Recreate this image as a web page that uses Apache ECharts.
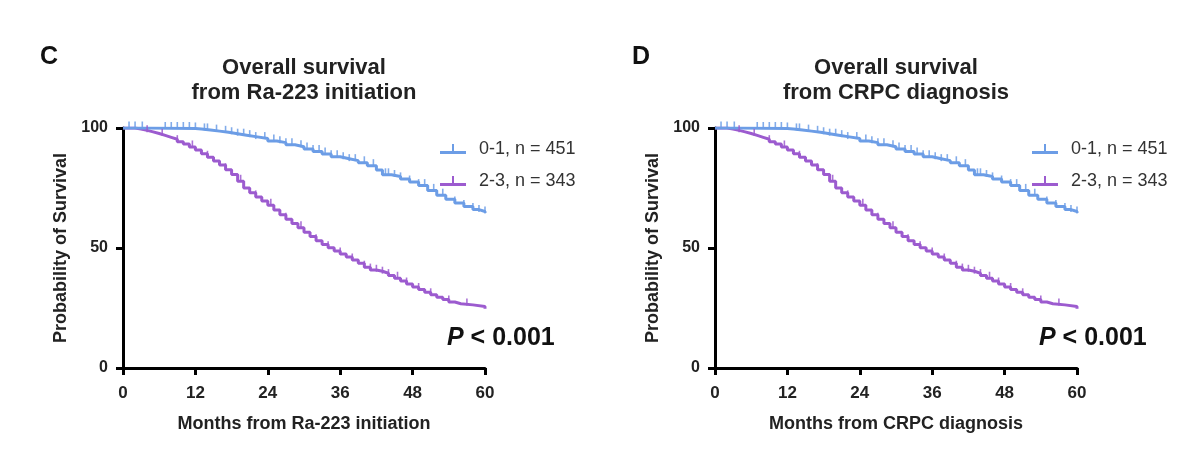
<!DOCTYPE html>
<html>
<head>
<meta charset="utf-8">
<title>Overall survival</title>
<script src="https://cdn.jsdelivr.net/npm/echarts@6/dist/echarts.min.js"></script>
<style>
  html, body { margin: 0; padding: 0; background: #fff; }
  #chart { width: 1200px; height: 471px; }
</style>
</head>
<body>
<div id="chart"></div>
<script>
// Kaplan-Meier steps: [month, survival %]
// both panels show the same curves
const groupLow = '0-1, n = 451';
const groupHigh = '2-3, n = 343';

const stepsLow = [
  [0, 100], [4, 99.8], [12, 99.6], [13, 99.2], [14.5, 98.7], [16, 98.2], [17.5, 97.6],
  [19, 97], [20.5, 96.4], [22, 95.6], [24, 94.6], [25.5, 93.9], [27, 93], [28.5, 92.2],
  [30, 91.2], [31.5, 90.2], [33, 89.2], [34.5, 88], [36, 87.2], [37.5, 86.4], [39, 85.5],
  [40.5, 84.3], [42, 82.5], [43, 80.5], [44.5, 79.8], [46, 78.8], [47.5, 77.5], [49, 76],
  [50.5, 74], [52, 72], [53.5, 70.3], [55, 68.8], [56.5, 67.3], [58, 66], [59, 65.2], [60, 64.6]
];
const stepsHigh = [
  [0, 100], [2, 99.6], [3, 99], [4, 98.4], [5, 97.7], [6, 96.9], [7, 96.1], [8, 95.3],
  [9, 94.3], [10, 93.3], [11, 92.1], [12, 90.8], [13, 89.3], [14, 87.8], [15, 86.3],
  [16, 84.6], [17, 82.6], [18, 80.6], [19, 77.8], [20, 75], [21, 73], [22, 71.3],
  [23, 69.6], [24, 67.8], [25, 65.8], [26, 63.9], [27, 62], [28, 60.2], [29, 58.4],
  [30, 56.6], [31, 54.8], [32, 53], [33, 51.5], [34, 50.1], [35, 48.8], [36, 47.5],
  [37, 46.3], [38, 45], [39, 43.6], [40, 42], [41, 40.8], [42, 40.3], [43, 39.5],
  [44, 38.5], [45, 37.4], [46, 36.2], [47, 35], [48, 33.8], [49, 32.7], [50, 31.6],
  [51, 30.5], [52, 29.5], [53, 28.5], [54, 27.5], [55, 26.8], [56, 26.3], [58, 25.6], [60, 24.7]
];

// censoring marks (months)
const censorLow = [1, 2, 3.2, 7, 8, 9, 10, 11, 12, 13.5, 14, 15.5, 17, 18, 19, 20, 21, 22,
  23.5, 25, 26, 27, 28, 29.5, 30.5, 31.5, 32.5, 33.5, 34.5, 35.5, 36.5, 37.5, 38.5, 40,
  41.5, 43.5, 44, 45, 46, 47.5, 49, 50, 51.5, 53, 55, 56.5, 58, 59, 60];
const censorHigh = [4, 6.5, 9, 11.5, 14, 17, 19.5, 22, 24.5, 27, 29.5, 32, 34, 36, 38,
  40, 41, 42, 43, 44, 45.5, 47, 49, 51, 54, 57];

const xTicks = [0, 12, 24, 36, 48, 60];
const yTicks = [0, 50, 100];

const panels = [
  { letter: 'C', title: 'Overall survival\nfrom Ra-223 initiation', xName: 'Months from Ra-223 initiation' },
  { letter: 'D', title: 'Overall survival\nfrom CRPC diagnosis', xName: 'Months from CRPC diagnosis' }
];

const colorLow = '#6c9de6';
const colorHigh = '#9c5bcf';
const font = '"Liberation Sans", Arial, sans-serif';

// survival at time t from the step list
function survAt(steps, t) {
  let v = steps[0][1];
  for (const s of steps) {
    if (s[0] <= t) v = s[1];
  }
  return v;
}

const grids = [
  { left: 123, right: 715, top: 128, bottom: 103 },
  { left: 715, right: 123, top: 128, bottom: 103 }
];
const centers = [304, 896];

const legendIcon = 'path://M0,9h26v3h-26z M12,2h2v8h-2z';

const option = {
  animation: false,
  textStyle: { fontFamily: font },
  grid: grids,
  title: [],
  legend: [],
  xAxis: [],
  yAxis: [],
  series: [],
  graphic: []
};

panels.forEach((p, i) => {
  option.title.push({
    text: p.letter,
    left: centers[i] - 264,
    top: 45,
    padding: 0,
    textStyle: { fontSize: 25, fontWeight: 'bold', color: '#111', fontFamily: font }
  });
  option.title.push({
    text: p.title,
    left: centers[i],
    top: 55,
    padding: 0,
    textAlign: 'center',
    textStyle: { fontSize: 22, fontWeight: 'bold', color: '#222', lineHeight: 25, fontFamily: font }
  });
  option.legend.push({
    orient: 'vertical',
    left: centers[i] + 131,
    top: 135,
    itemWidth: 26,
    itemHeight: 12,
    itemGap: 14,
    icon: legendIcon,
    data: [groupLow, groupHigh],
    textStyle: { fontSize: 18, color: '#333', padding: [0, 0, 0, 8], fontFamily: font }
  });
  option.xAxis.push({
    type: 'value',
    gridIndex: i,
    min: 0,
    max: 60,
    interval: 12,
    name: p.xName,
    nameLocation: 'middle',
    nameGap: 47,
    nameTextStyle: { fontSize: 18, fontWeight: 'bold', color: '#222' },
    axisLine: { onZero: false, lineStyle: { color: '#000', width: 3 } },
    axisTick: { length: 7, lineStyle: { color: '#000', width: 3 } },
    axisLabel: {
      fontSize: 17, fontWeight: 'bold', color: '#222', margin: 17,
      formatter: v => (xTicks.includes(v) ? String(v) : '')
    },
    splitLine: { show: false }
  });
  option.yAxis.push({
    type: 'value',
    gridIndex: i,
    min: 0,
    max: 100,
    interval: 50,
    name: 'Probability of Survival',
    nameLocation: 'middle',
    nameGap: 53,
    nameTextStyle: { fontSize: 18, fontWeight: 'bold', color: '#222' },
    axisLine: { onZero: false, lineStyle: { color: '#000', width: 3 } },
    axisTick: { length: 7, lineStyle: { color: '#000', width: 3 } },
    axisLabel: {
      fontSize: 16, fontWeight: 'bold', color: '#222', margin: 15,
      formatter: v => (yTicks.includes(v) ? String(v) : '')
    },
    splitLine: { show: false }
  });

  const groups = [
    { name: groupHigh, steps: stepsHigh, censor: censorHigh, color: colorHigh },
    { name: groupLow, steps: stepsLow, censor: censorLow, color: colorLow }
  ];
  groups.forEach(g => {
    option.series.push({
      name: g.name,
      type: 'line',
      xAxisIndex: i,
      yAxisIndex: i,
      step: 'end',
      showSymbol: false,
      data: g.steps,
      itemStyle: { color: g.color },
      lineStyle: { color: g.color, width: 3 },
      z: 3
    });
    option.series.push({
      name: g.name,
      type: 'scatter',
      xAxisIndex: i,
      yAxisIndex: i,
      symbol: 'rect',
      symbolSize: [1.6, 7],
      symbolOffset: [0, -3],
      data: g.censor.map(t => [t, survAt(g.steps, t)]),
      itemStyle: { color: g.color, opacity: 0.85 },
      z: 4
    });
  });

  option.graphic.push({
    type: 'text',
    left: centers[i] + 143,
    top: 326,
    style: {
      text: '{p|P} < 0.001',
      font: 'bold 25px ' + font,
      fill: '#111',
      rich: { p: { fontStyle: 'italic', fontWeight: 'bold', fontSize: 25, fontFamily: font } }
    }
  });
});

const chart = echarts.init(document.getElementById('chart'));
chart.setOption(option);
</script>
</body>
</html>
